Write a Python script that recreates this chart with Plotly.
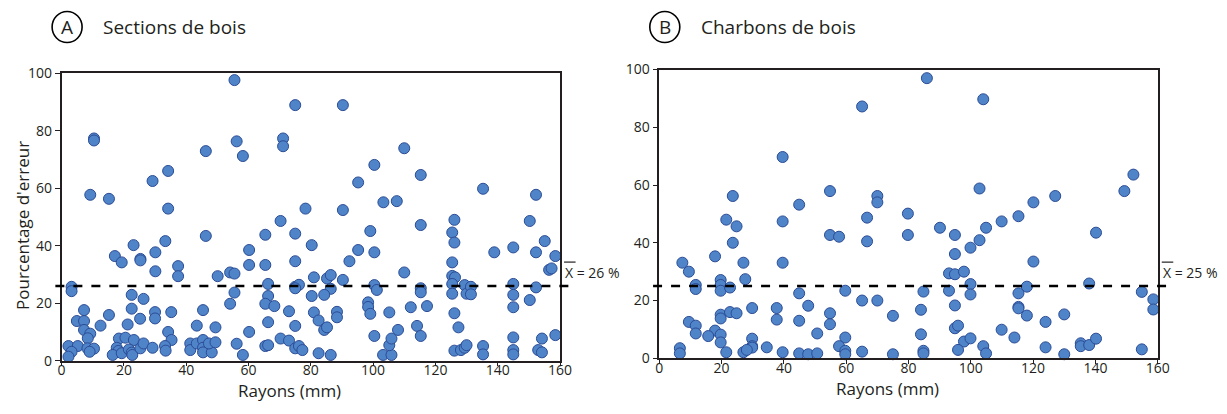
import plotly.graph_objects as go

# ---------------- data ----------------
a_x = [10.4,10.4,46.3,34.2,29.2,9.2,15.2,34.2,46.3,33.3,23.1,17.1,19.3,25.3,25.3,30.1,30.1,37.4,37.4,50.1,
       3.2,3.2,22.5,26.3,7.2,22.5,15.2,30.0,30.0,35.2,45.4,4.9,7.2,25.2,12.5,21.2,7.2,9.2,8.4,43.4,
       49.4,34.2,35.3,18.4,20.5,23.2,2.2,5.2,8.3,10.4,9.0,3.2,2.2,17.7,18.2,16.4,19.3,21.6,22.5,22.7,
       25.3,26.3,29.2,33.2,33.4,41.3,41.3,43.4,45.4,45.4,45.4,48.2,47.3,49.4,
       55.5,75.0,90.3,56.2,71.1,71.1,58.2,100.4,95.2,103.3,107.6,78.3,90.3,70.3,99.1,65.4,75.0,80.3,60.2,95.2,
       100.4,92.4,60.2,65.4,75.0,54.1,55.5,81.0,85.2,86.4,90.3,66.3,75.0,76.2,75.0,86.4,100.4,101.2,55.5,54.1,
       66.3,65.4,68.3,80.3,84.3,73.0,81.0,82.5,88.4,88.4,98.4,98.4,99.1,105.2,66.3,75.0,84.3,85.2,60.2,56.2,
       58.2,65.4,66.3,70.3,73.0,75.0,76.2,77.3,82.5,86.4,100.4,103.2,105.9,105.2,105.9,108.0,
       110.0,115.3,135.3,152.3,115.3,126.1,125.4,126.1,150.3,155.1,138.9,145.0,152.3,158.5,110.0,125.4,125.4,126.3,156.5,157.3,
       115.3,115.3,125.4,125.4,129.4,130.0,131.4,131.4,145.0,145.0,152.3,112.1,117.3,126.1,145.0,150.3,114.1,115.3,127.4,145.0,
       154.2,158.5,126.1,128.2,129.4,130.0,135.3,135.3,145.0,145.0,153.0,154.2]
a_y = [77.3,76.6,72.9,66.0,62.5,57.7,56.3,52.9,43.4,41.6,40.2,36.4,34.2,35.4,34.9,37.7,31.1,32.9,29.4,29.4,
       25.7,24.2,22.9,21.5,17.6,18.1,15.9,16.9,14.7,16.9,17.6,13.8,13.8,14.6,12.2,12.6,10.7,9.4,7.8,12.2,
       11.6,10.0,7.2,7.7,8.0,7.2,5.1,5.1,4.3,4.2,3.1,3.1,1.4,4.5,3.4,2.0,2.6,3.9,2.8,2.0,
       4.3,6.0,4.5,5.1,3.5,6.0,3.7,6.0,7.2,4.5,2.9,2.9,6.0,6.4,
       97.6,88.9,88.9,76.3,77.3,74.6,71.2,68.1,62.0,55.1,55.5,52.9,52.4,48.6,45.1,43.8,44.2,40.2,38.5,38.5,
       37.7,34.6,33.3,33.3,34.6,30.7,30.3,29.0,28.6,29.8,28.1,26.7,25.7,26.4,25.2,25.0,26.3,24.6,23.7,19.8,
       22.5,19.8,19.0,22.5,22.9,17.2,16.8,14.0,17.0,15.1,20.3,18.7,16.3,16.8,13.4,12.1,10.7,11.6,10.0,5.9,
       2.0,5.1,5.4,7.7,7.0,4.3,5.1,3.7,2.6,2.0,8.6,2.0,2.0,5.4,7.7,10.7,
       73.9,64.6,59.8,57.7,47.2,49.0,44.6,41.1,48.6,41.6,37.7,39.4,37.7,36.4,30.7,34.2,29.5,29.0,31.6,32.1,
       25.2,23.8,26.7,23.3,26.3,23.3,25.7,23.1,26.7,22.9,25.5,18.6,19.0,16.5,18.6,21.1,12.1,8.6,11.6,8.1,
       7.7,8.9,3.5,3.7,4.5,5.4,5.1,2.2,3.7,2.2,3.7,2.9]

b_x = [39.6,23.6,44.9,21.5,39.6,24.8,23.6,17.9,7.4,27.0,39.6,9.5,27.6,19.7,11.7,11.7,19.7,19.7,22.7,44.9,
       47.8,29.8,37.7,37.7,19.7,19.7,22.7,24.8,9.5,11.7,11.7,17.9,15.7,19.7,19.7,44.9,50.7,29.8,29.8,29.8,
       34.5,6.6,6.6,21.5,27.0,28.1,39.6,44.9,47.8,50.7,
       85.9,65.1,104.0,54.8,102.8,70.0,70.0,66.7,79.8,90.1,104.9,54.8,57.7,66.7,79.8,94.9,102.8,99.9,94.9,93.0,
       94.9,97.8,99.9,99.9,59.7,84.8,93.0,65.1,70.0,94.9,75.0,84.0,54.8,54.8,94.9,95.9,84.0,59.7,57.7,59.7,
       59.7,65.1,75.0,84.8,84.8,97.8,99.9,95.9,104.0,104.9,
       152.2,149.3,127.1,120.1,115.3,109.9,140.2,120.1,138.0,118.0,115.3,154.9,158.6,158.6,115.3,115.3,118.0,130.0,124.0,109.9,
       114.0,124.0,130.0,135.3,135.3,138.0,140.2,154.9]
b_y = [69.7,56.2,53.2,48.0,47.4,45.7,40.0,35.3,33.1,33.1,33.1,30.0,27.4,27.1,25.4,24.0,25.4,23.4,24.5,22.5,
       18.2,17.4,17.4,13.4,15.1,13.8,16.0,15.6,12.6,11.3,8.6,9.6,7.7,8.2,5.5,13.0,8.6,6.8,4.2,3.7,
       3.8,3.5,1.7,2.1,2.1,2.9,2.1,1.7,1.4,1.7,
       97.0,87.2,89.7,57.9,58.8,56.2,54.0,48.7,50.1,45.2,45.2,42.7,42.1,40.5,42.7,42.7,40.9,38.3,36.1,29.4,
       29.1,30.0,25.7,22.1,23.4,23.1,23.4,20.0,20.0,18.3,14.7,16.8,15.6,11.8,10.4,11.3,8.3,7.2,4.2,2.6,
       1.4,2.3,1.4,2.6,1.7,5.8,6.9,2.9,4.2,1.7,
       63.6,57.9,56.2,54.0,49.2,47.4,43.5,33.5,25.9,24.8,22.5,23.0,20.4,16.9,17.8,17.3,14.8,15.2,12.6,9.9,
       7.2,3.8,1.4,5.2,4.2,4.6,6.8,3.1]

means = [26, 25]
panel_titles = ["Sections de bois", "Charbons de bois"]
panel_letters = ["A", "B"]
x_ticks = [0, 20, 40, 60, 80, 100, 120, 140, 160]
y_ticks = [0, 20, 40, 60, 80, 100]

# ---------------- figure ----------------
W, H = 1227, 414
FONT = "Open Sans"
TXT = "#231f20"
fill = "#5084C8"
edge = "#2B4C96"

fig = go.Figure()
marker = dict(size=11, color=fill, line=dict(color=edge, width=1))
fig.add_trace(go.Scatter(x=a_x, y=a_y, mode="markers", marker=marker, xaxis="x", yaxis="y",
                         showlegend=False, cliponaxis=False))
fig.add_trace(go.Scatter(x=b_x, y=b_y, mode="markers", marker=marker, xaxis="x2", yaxis="y2",
                         showlegend=False, cliponaxis=False))


def px_x(p):
    return p / W


def px_y(p):
    return (H - p) / H


axA = dict(l=61.6, r=560.0, t=73.2, b=360.7)
axB = dict(l=659.3, r=1157.7, t=69.5, b=358.3)

common_x = dict(range=[0, 160], tickvals=x_ticks, ticks="outside", ticklen=4, tickwidth=1.3,
                tickcolor=TXT, showline=True, linecolor=TXT, linewidth=1.5, mirror=True,
                showgrid=False, zeroline=False, automargin=False, ticklabelstandoff=-8,
                tickfont=dict(family=FONT, size=14, color=TXT))
common_y = dict(range=[0, 100], tickvals=y_ticks, ticks="outside", ticklen=5, tickwidth=1.3,
                tickcolor=TXT, showline=True, linecolor=TXT, linewidth=1.5, mirror=True,
                showgrid=False, zeroline=False, automargin=False,
                tickfont=dict(family=FONT, size=14, color=TXT))

fig.update_layout(
    width=W, height=H, margin=dict(l=0, r=0, t=0, b=0, pad=0, autoexpand=False),
    paper_bgcolor="white", plot_bgcolor="white",
    xaxis=dict(common_x, domain=[px_x(axA["l"]), px_x(axA["r"])], anchor="y"),
    yaxis=dict(common_y, domain=[px_y(axA["b"]), px_y(axA["t"])], anchor="x"),
    xaxis2=dict(common_x, domain=[px_x(axB["l"]), px_x(axB["r"])], anchor="y2"),
    yaxis2=dict(common_y, domain=[px_y(axB["b"]), px_y(axB["t"])], anchor="x2"),
)

shapes = []
annotations = []
for i, (ax, xr, yr) in enumerate([(axA, "x", "y"), (axB, "x2", "y2")]):
    m = means[i]
    shapes.append(dict(type="line", xref=f"{xr} domain", yref=f"{yr} domain",
                       x0=-2 / 160, x1=165.5 / 160, y0=m / 100, y1=m / 100,
                       line=dict(color="black", width=2.5, dash="dash")))
    shapes.append(dict(type="line", xref=f"{xr} domain", yref=f"{yr} domain",
                       x0=161.3 / 160, x1=165.0 / 160, y0=(m + 8.3) / 100, y1=(m + 8.3) / 100,
                       line=dict(color=TXT, width=1.2)))
    annotations.append(dict(xref=f"{xr} domain", yref=f"{yr} domain", x=161.0 / 160, y=(m + 4.6) / 100,
                            text=f"X = {m} %", showarrow=False, xanchor="left", yanchor="middle",
                            font=dict(family=FONT, size=14, color=TXT)))
    cx = ax["l"] + (ax["r"] - ax["l"]) * 0.457
    annotations.append(dict(xref="paper", yref="paper", x=px_x(cx), y=px_y(ax["b"] + 30),
                            text="Rayons (mm)", showarrow=False, xanchor="center", yanchor="middle",
                            font=dict(family=FONT, size=17, color=TXT)))
    ccx = ax["l"] + 5.5
    shapes.append(dict(type="circle", xref="paper", yref="paper",
                       x0=px_x(ccx - 15), x1=px_x(ccx + 15), y0=px_y(27 + 15.5), y1=px_y(27 - 15.5),
                       line=dict(color="black", width=1.6)))
    annotations.append(dict(xref="paper", yref="paper", x=px_x(ccx), y=px_y(27.5),
                            text=panel_letters[i], showarrow=False, xanchor="center", yanchor="middle",
                            font=dict(family=FONT, size=19, color=TXT)))
    annotations.append(dict(xref="paper", yref="paper", x=px_x(ccx + 34), y=px_y(27.5),
                            text=panel_titles[i], showarrow=False, xanchor="left", yanchor="middle",
                            font=dict(family=FONT, size=19, color=TXT)))

annotations.append(dict(xref="paper", yref="paper", x=px_x(22), y=px_y(226),
                        text="Pourcentage d'erreur", showarrow=False, textangle=-90,
                        xanchor="center", yanchor="middle",
                        font=dict(family=FONT, size=17, color=TXT)))

fig.update_layout(shapes=shapes, annotations=annotations)
fig.write_html("out.html", config={"displayModeBar": False},
               post_script="document.body.style.margin='0px';")
